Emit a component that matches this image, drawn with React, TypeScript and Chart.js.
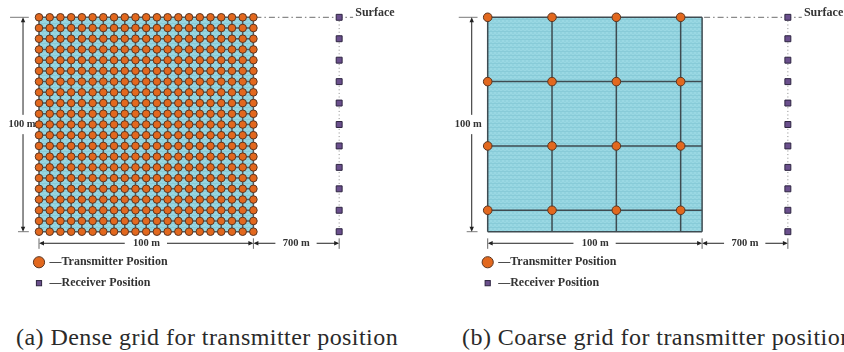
import React, { useEffect, useRef } from "react";
import { Chart, registerables } from "chart.js";
Chart.register(...registerables);

// grid indices (one index = 5 m on the dense grid)
const denseIndex = [0, 1, 2, 3, 4, 5, 6, 7, 8, 9, 10, 11, 12, 13, 14, 15, 16, 17, 18, 19, 20];
const coarseIndex = [0, 6, 12, 18];
const gridEdgeIndex = 20;
const receiverDepthIndex = [0, 2, 4, 6, 8, 10, 12, 14, 16, 18, 20];
const receiverColumn = 28;
const surfaceLabel = "Surface";
const gridSizeLabel = "100 m";
const offsetLabel = "700 m";
const legendLabels = ["\u2014Transmitter Position", "\u2014Receiver Position"];
const captions = ["(a) Dense grid for transmitter position", "(b) Coarse grid for transmitter position"];

const U = 10.72;
const PANEL_W = 422;
const PANEL_H = 300;
const ORIGIN_Y = 17.3;
const SERIF = "'Liberation Serif', 'Times New Roman', Times, 'DejaVu Serif', serif";

function makePattern(ctx: CanvasRenderingContext2D) {
  const c = document.createElement("canvas");
  c.width = 4;
  c.height = 4;
  const g = c.getContext("2d")!;
  g.fillStyle = "#91d2de";
  g.fillRect(0, 0, 4, 4);
  g.fillStyle = "#9ad8e3";
  g.fillRect(0, 0, 2, 2);
  g.fillRect(2, 2, 2, 2);
  g.fillStyle = "#88cbd8";
  g.fillRect(0, 3, 4, 1);
  return ctx.createPattern(c, "repeat")!;
}

function arrow(ctx: CanvasRenderingContext2D, x: number, y: number, dir: string) {
  const L = 5, W = 2.2;
  ctx.beginPath();
  ctx.moveTo(x, y);
  if (dir === "up") { ctx.lineTo(x - W, y + L); ctx.lineTo(x + W, y + L); }
  if (dir === "down") { ctx.lineTo(x - W, y - L); ctx.lineTo(x + W, y - L); }
  if (dir === "left") { ctx.lineTo(x + L, y - W); ctx.lineTo(x + L, y + W); }
  if (dir === "right") { ctx.lineTo(x - L, y - W); ctx.lineTo(x - L, y + W); }
  ctx.closePath();
  ctx.fill();
}

function makePlugin(dense: boolean, labelCol: number) {
  return {
    id: "diagram",
    beforeDatasetsDraw(chart: any) {
      const { ctx, scales } = chart;
      const px = (v: number) => scales.x.getPixelForValue(v);
      const py = (v: number) => scales.y.getPixelForValue(v);
      ctx.save();
      ctx.fillStyle = makePattern(ctx);
      ctx.fillRect(px(0), py(0), px(gridEdgeIndex) - px(0), py(gridEdgeIndex) - py(0));
      const lines = dense ? denseIndex : [...coarseIndex, gridEdgeIndex];
      ctx.strokeStyle = dense ? "#4f5a5e" : "#3e4b51";
      ctx.lineWidth = 1.5;
      ctx.beginPath();
      for (const c of lines) {
        ctx.moveTo(px(c), py(0));
        ctx.lineTo(px(c), py(gridEdgeIndex));
        ctx.moveTo(px(0), py(c));
        ctx.lineTo(px(gridEdgeIndex), py(c));
      }
      ctx.stroke();
      // surface dash-dot line
      ctx.strokeStyle = "#8a8a8a";
      ctx.lineWidth = 1.2;
      ctx.setLineDash([6, 3, 1.5, 3]);
      ctx.beginPath();
      ctx.moveTo(px(gridEdgeIndex) + 2, py(0));
      ctx.lineTo(px(29.3), py(0));
      ctx.stroke();
      ctx.setLineDash([]);
      // extension lines
      ctx.strokeStyle = "#7a7a7a";
      ctx.lineWidth = 1;
      ctx.beginPath();
      ctx.moveTo(px(-2.7), py(0));
      ctx.lineTo(px(-0.95), py(0));
      ctx.moveTo(px(-1.96), py(gridEdgeIndex));
      ctx.lineTo(px(-0.95), py(gridEdgeIndex));
      ctx.stroke();
      // vertical dimension
      const vx = px(-1.49);
      ctx.strokeStyle = "#222";
      ctx.fillStyle = "#222";
      ctx.beginPath();
      ctx.moveTo(vx, py(0) + 2);
      ctx.lineTo(vx, py(9.1));
      ctx.moveTo(vx, py(10.9));
      ctx.lineTo(vx, py(gridEdgeIndex) - 2);
      ctx.stroke();
      arrow(ctx, vx, py(0), "up");
      arrow(ctx, vx, py(gridEdgeIndex), "down");
      // horizontal dimension
      const hy = py(21.08);
      ctx.beginPath();
      ctx.moveTo(px(0) + 2, hy); ctx.lineTo(px(8.0), hy);
      ctx.moveTo(px(11.94), hy); ctx.lineTo(px(gridEdgeIndex) - 2, hy);
      ctx.moveTo(px(gridEdgeIndex) + 2, hy); ctx.lineTo(px(22.05), hy);
      ctx.moveTo(px(25.9), hy); ctx.lineTo(px(receiverColumn) - 2, hy);
      ctx.stroke();
      arrow(ctx, px(0), hy, "left");
      arrow(ctx, px(gridEdgeIndex), hy, "right");
      arrow(ctx, px(gridEdgeIndex), hy, "left");
      arrow(ctx, px(receiverColumn), hy, "right");
      ctx.strokeStyle = "#666";
      ctx.beginPath();
      for (const c of [0, gridEdgeIndex, receiverColumn]) {
        ctx.moveTo(px(c), py(20.62));
        ctx.lineTo(px(c), py(21.6));
      }
      ctx.stroke();
      ctx.restore();
    },
    afterDatasetsDraw(chart: any) {
      const { ctx, scales } = chart;
      const px = (v: number) => scales.x.getPixelForValue(v);
      const py = (v: number) => scales.y.getPixelForValue(v);
      ctx.save();
      ctx.fillStyle = "#333";
      ctx.textBaseline = "middle";
      ctx.font = "bold 12px " + SERIF;
      ctx.textAlign = "left";
      ctx.fillText(surfaceLabel, px(29.5), py(-0.45));
      ctx.fillText(legendLabels[0], px(0.98), py(22.85));
      ctx.fillText(legendLabels[1], px(0.98), py(24.8));
      ctx.font = "bold 10.5px " + SERIF;
      ctx.textAlign = "center";
      ctx.fillText(gridSizeLabel, px(labelCol), py(10));
      ctx.fillText(gridSizeLabel, px(10.03), py(21.08));
      ctx.fillText(offsetLabel, px(24), py(21.08));
      // legend markers
      ctx.fillStyle = "#e2681e";
      ctx.strokeStyle = "#5b3520";
      ctx.lineWidth = 1;
      ctx.beginPath();
      ctx.arc(px(0), py(22.85), 5.6, 0, Math.PI * 2);
      ctx.fill();
      ctx.stroke();
      ctx.fillStyle = "#6a4f8c";
      ctx.strokeStyle = "#2e2540";
      const s = 5.2;
      ctx.fillRect(px(0) - s / 2, py(24.8) - s / 2, s, s);
      ctx.strokeRect(px(0) - s / 2, py(24.8) - s / 2, s, s);
      ctx.restore();
    },
  };
}

function Panel({ dense, originX, labelCol, left }: { dense: boolean; originX: number; labelCol: number; left: number }) {
  const ref = useRef<HTMLCanvasElement>(null);
  useEffect(() => {
    const idx = dense ? denseIndex : coarseIndex;
    const tx: { x: number; y: number }[] = [];
    for (const r of idx) for (const c of idx) tx.push({ x: c, y: r });
    const chart = new Chart(ref.current!, {
      type: "scatter",
      data: {
        datasets: [
          {
            data: receiverDepthIndex.map((r) => ({ x: receiverColumn, y: r })),
            showLine: true,
            borderColor: "#8a8a8a",
            borderWidth: 1,
            borderDash: [1, 2.6],
            pointStyle: "rect",
            pointRadius: 4.2,
            pointBackgroundColor: "#6a4f8c",
            pointBorderColor: "#2e2540",
            pointBorderWidth: 1,
          } as any,
          {
            data: tx,
            pointRadius: dense ? 3.8 : 4.3,
            pointBackgroundColor: "#e2681e",
            pointBorderColor: "#5b3520",
            pointBorderWidth: 1,
          },
        ],
      },
      options: {
        responsive: false,
        animation: false,
        events: [],
        layout: { padding: 0 },
        plugins: { legend: { display: false }, tooltip: { enabled: false } },
        scales: {
          x: { type: "linear", display: false, min: -originX / U, max: (PANEL_W - originX) / U },
          y: { type: "linear", display: false, reverse: true, min: -ORIGIN_Y / U, max: (PANEL_H - ORIGIN_Y) / U },
        },
      },
      plugins: [makePlugin(dense, labelCol)],
    });
    // align the scales with the actual chart area so one grid index = U pixels
    const ca = chart.chartArea;
    const so: any = chart.options.scales;
    so.x.min = (ca.left - originX) / U;
    so.x.max = (ca.right - originX) / U;
    so.y.min = (ca.top - ORIGIN_Y) / U;
    so.y.max = (ca.bottom - ORIGIN_Y) / U;
    chart.update("none");
    return () => chart.destroy();
  }, []);
  return (
    <canvas
      ref={ref}
      width={PANEL_W}
      height={PANEL_H}
      style={{ position: "absolute", left, top: 0, width: PANEL_W, height: PANEL_H }}
    />
  );
}

export default function App() {
  const capStyle: React.CSSProperties = {
    position: "absolute",
    top: 322,
    fontFamily: SERIF,
    fontSize: 24,
    lineHeight: "30px",
    color: "#2a2a2a",
    whiteSpace: "nowrap",
    letterSpacing: 0.45,
  };
  return (
    <div style={{ position: "absolute", left: 0, top: 0, width: 844, height: 352, overflow: "hidden", background: "#fff" }}>
      <Panel dense={true} originX={39} labelCol={-1.59} left={0} />
      <Panel dense={false} originX={65.7} labelCol={-1.81} left={422} />
      <div style={{ ...capStyle, left: 16 }}>{captions[0]}</div>
      <div style={{ ...capStyle, left: 462 }}>{captions[1]}</div>
    </div>
  );
}
